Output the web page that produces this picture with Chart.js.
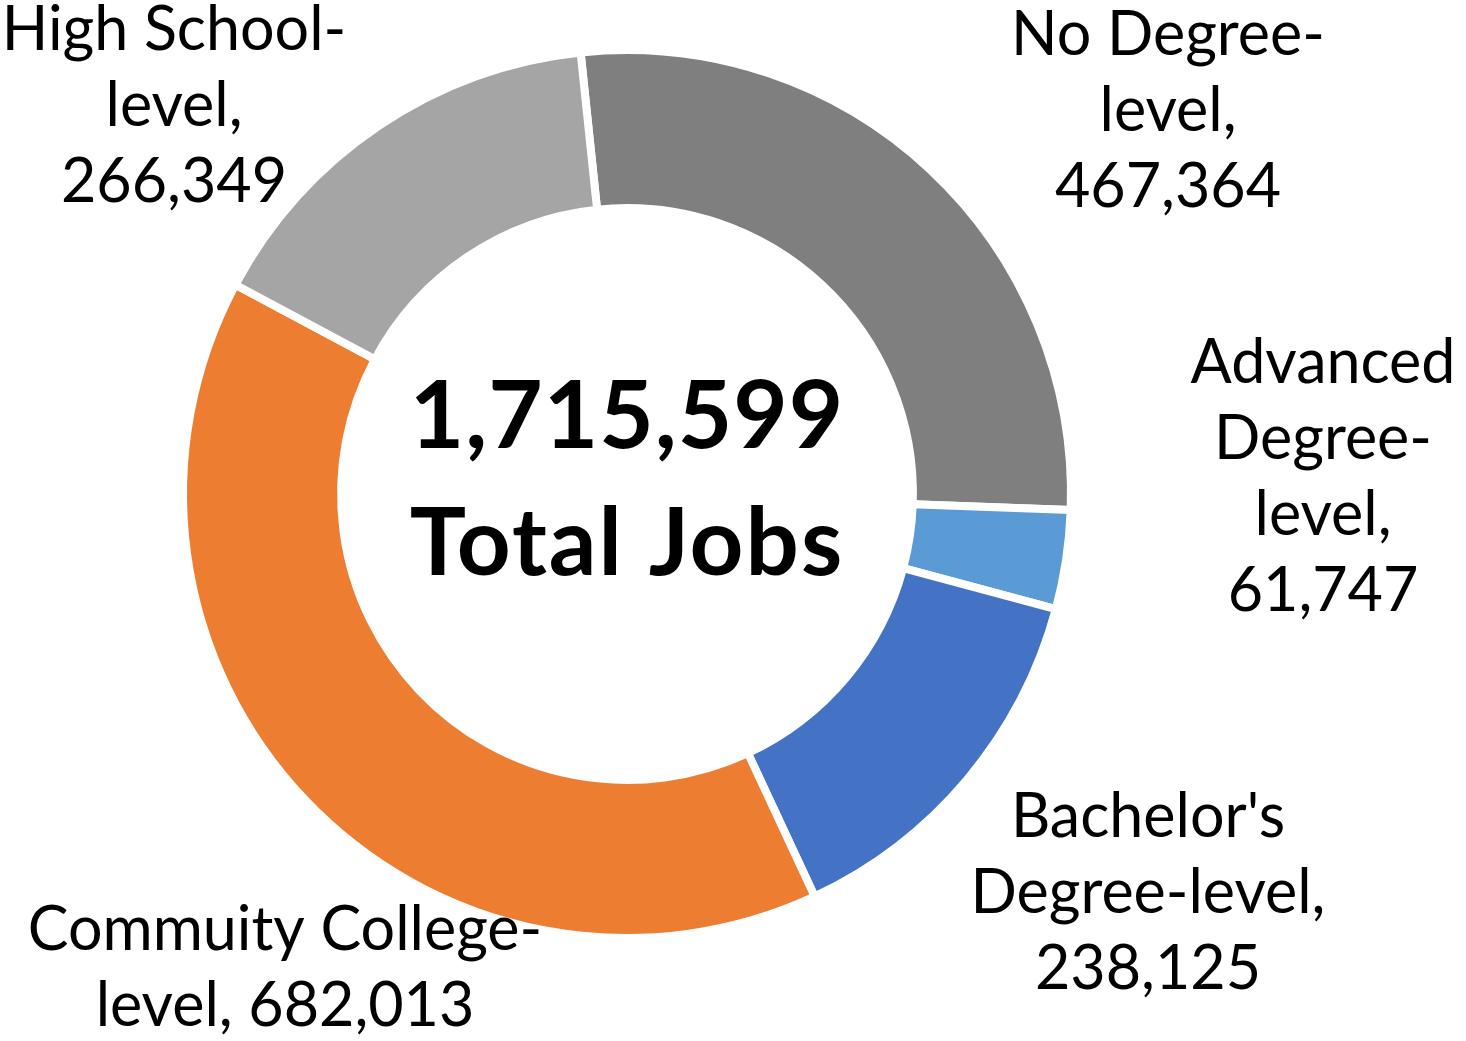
<!DOCTYPE html>
<html>
<head>
<meta charset="utf-8">
<title>Total Jobs by Education Level</title>
<script src="https://cdn.jsdelivr.net/npm/chart.js@4/dist/chart.umd.min.js"></script>
<style>
  html, body { margin: 0; padding: 0; background: #ffffff; }
  #jobsChart { display: block; }
</style>
</head>
<body>
<canvas id="jobsChart" width="1466" height="1041"></canvas>
<script>
// Jobs by education level, clockwise from the top
const categories = ['No Degree-level', 'Advanced Degree-level', "Bachelor's Degree-level", 'Commuity College-level', 'High School-level'];
const jobCounts = [467364, 61747, 238125, 682013, 266349];
const totalJobs = 1715599;

const sliceColors = ['#7f7f7f', '#5b9bd5', '#4472c4', '#ed7d31', '#a5a5a5'];

// How each label is broken over lines; {v} is replaced by the slice value
const labelLines = [
    ['No Degree-', 'level,', '{v}'],
    ['Advanced', 'Degree-', 'level,', '{v}'],
    ["Bachelor's", 'Degree-level,', '{v}'],
    ['Commuity College-', 'level, {v}'],
    ['High School-', 'level,', '{v}']
];
// first-line baseline of each label, relative to the ring centre
const labelOffsets = [
    [541, -439],
    [696, -111],
    [521, 343],
    [-342, 456],
    [-453, -444]
];

const labelFont = '400 61px Lato, "Open Sans", sans-serif';
const labelLineHeight = 76;

const fmt = n => n.toLocaleString('en-US');

const sliceLabels = {
    id: 'sliceLabels',
    afterDraw(chart) {
        const c = chart.ctx;
        const arcs = chart.getDatasetMeta(0).data;
        const cx = arcs[0].x;
        const cy = arcs[0].y;
        c.save();
        c.fillStyle = '#000000';
        c.textAlign = 'center';
        c.textBaseline = 'alphabetic';

        c.font = labelFont;
        labelLines.forEach((lines, i) => {
            let [dx, dy] = labelOffsets[i];
            lines.forEach((line, j) => {
                let text = line.replace('{v}', fmt(jobCounts[i]));
                c.fillText(text, cx + dx, cy + dy + j * labelLineHeight);
            });
        });

        // total in the hole
        c.font = '700 94px Lato, "Open Sans", sans-serif';
        c.letterSpacing = '1px';
        c.fillText(fmt(totalJobs), cx, cy - 46);
        c.letterSpacing = '2px';
        c.fillText('Total Jobs', cx, cy + 81);
        c.restore();
    }
};

let ctx = document.getElementById('jobsChart').getContext('2d');

let jobsChart = new Chart(ctx, {
    type: 'doughnut',
    data: {
        labels: categories,
        datasets: [{
            data: jobCounts,
            backgroundColor: sliceColors,
            borderColor: '#ffffff',
            borderWidth: 8,
            hoverOffset: 0
        }]
    },
    options: {
        responsive: false,
        maintainAspectRatio: false,
        animation: false,
        rotation: -6,
        cutout: '64.4%',
        layout: {
            padding: { left: 179, top: 46, right: 391, bottom: 99 }
        },
        plugins: {
            legend: { display: false },
            tooltip: { enabled: false }
        }
    },
    plugins: [sliceLabels]
});
</script>
</body>
</html>
